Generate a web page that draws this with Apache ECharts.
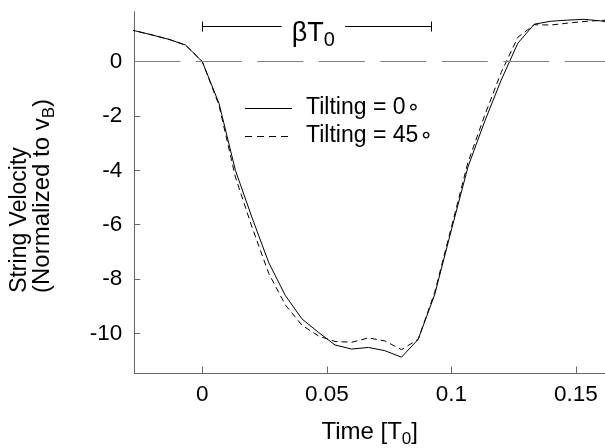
<!DOCTYPE html>
<html><head><meta charset="utf-8">
<script src="https://cdn.jsdelivr.net/npm/echarts@6/dist/echarts.min.js"></script>
<style>html,body{margin:0;padding:0;background:#fff}#c{width:605px;height:448px}</style>
</head><body><div id="c"></div>
<script>
// Time axis samples [T0]
const timeT0 = [-0.0333,-0.0267,-0.0200,-0.0133,-0.0067,0.0000,0.0067,0.0133,0.0200,0.0267,0.0333,0.0400,0.0467,0.0533,0.0600,0.0667,0.0733,0.0800,0.0867,0.0933,0.1000,0.1067,0.1133,0.1200,0.1267,0.1333,0.1400,0.1467,0.1533,0.1600,0.1667];
// String velocity (normalized to v_B)
const tilt0 = [1.27,1.13,0.98,0.82,0.61,0.00,-1.53,-4.00,-5.75,-7.40,-8.60,-9.47,-9.97,-10.43,-10.58,-10.52,-10.64,-10.88,-10.22,-8.58,-6.20,-3.87,-2.22,-0.68,0.68,1.38,1.49,1.53,1.56,1.50,1.42];
const tilt45 = [1.27,1.13,0.98,0.82,0.61,0.00,-1.60,-4.25,-6.10,-7.80,-8.95,-9.70,-10.10,-10.30,-10.33,-10.17,-10.28,-10.60,-10.22,-8.50,-6.10,-3.70,-2.00,-0.40,0.90,1.36,1.35,1.42,1.48,1.52,1.54];
const seriesNames = ['Tilting = 0\u2218','Tilting = 45\u2218'];
const xTicks = [0,0.05,0.1,0.15];
const xTickLabels = ['0','0.05','0.1','0.15'];
const yTicks = [-10,-8,-6,-4,-2,0];
const yTickLabels = ['-10','-8','-6','-4','-2','0'];
const bracketT = [0,0.092];
const bracketV = 1.31;

const FONT = 'Liberation Sans, Arial, sans-serif';
const AX = '#666666';
const chart = echarts.init(document.getElementById('c'), null, {renderer:'canvas'});
const pair = (xs, ys) => xs.map((x,i)=>[x, ys[i]]);
const option = {
  animation:false,
  backgroundColor:'#ffffff',
  grid:{left:134.3, right:0, top:11.7, bottom:74.5, containLabel:false},
  xAxis:{type:'value', min:-0.0273, max:0.1617,
    axisLine:{onZero:false, lineStyle:{color:AX, width:1}},
    axisTick:{inside:true, length:7, customValues:xTicks, lineStyle:{color:AX}},
    axisLabel:{customValues:xTicks, formatter:v=>xTickLabels[xTicks.findIndex(t=>Math.abs(t-v)<1e-9)] ?? String(v),
      fontSize:22.5, fontFamily:FONT, color:'#000', margin:10},
    splitLine:{show:false}},
  yAxis:{type:'value', min:-11.48, max:1.84,
    axisLine:{show:true, onZero:false, lineStyle:{color:AX, width:1}},
    axisTick:{show:true, inside:true, length:6, customValues:yTicks, lineStyle:{color:AX}},
    axisLabel:{customValues:yTicks, formatter:v=>yTickLabels[yTicks.findIndex(t=>Math.abs(t-v)<1e-9)] ?? String(v),
      fontSize:22.5, fontFamily:FONT, color:'#000', margin:12},
    splitLine:{show:false}},
  series:[
    {name:seriesNames[0], type:'line', data:pair(timeT0,tilt0), showSymbol:false, symbol:'none', clip:true,
     lineStyle:{color:'#000', width:1, type:'solid'},
     markLine:{silent:true, symbol:['none','none'], label:{show:false},
       lineStyle:{color:'#808080', width:1, type:[46,15.5]}, data:[{yAxis:0}]}},
    {name:seriesNames[1], type:'line', data:pair(timeT0,tilt45), showSymbol:false, symbol:'none', clip:true,
     lineStyle:{color:'#000', width:1, type:[6,4]}}
  ]
};
chart.setOption(option);

const P = (t,v)=>chart.convertToPixel({gridIndex:0},[t,v]);
const b0 = P(bracketT[0], bracketV), b1 = P(bracketT[1], bracketV);
const by = Math.round(b0[1])+0.5;
const gapL = 281.7, gapR = 345;
const ls = {stroke:'#000', lineWidth:1};
const subRich = {
  n:{fontSize:24, fontFamily:FONT, color:'#000', lineHeight:30},
  s:{fontSize:17, fontFamily:FONT, color:'#000', lineHeight:17, padding:[14,0,0,0]}
};
const legRich = {
  n:{fontSize:23, fontFamily:FONT, color:'#000', lineHeight:28},
  c:{fontSize:22, fontFamily:'DejaVu Sans, sans-serif', color:'#000', lineHeight:28, padding:[0,0,0,1]}
};
const legText = s => '{n|' + s.replace('\u2218','') + '}{c|\u2218}';
const graphics = [
  {type:'line', shape:{x1:b0[0], y1:by, x2:gapL, y2:by}, style:ls, silent:true},
  {type:'line', shape:{x1:gapR, y1:by, x2:b1[0], y2:by}, style:ls, silent:true},
  {type:'line', shape:{x1:Math.round(b0[0])+0.5, y1:by-5, x2:Math.round(b0[0])+0.5, y2:by+5}, style:ls, silent:true},
  {type:'line', shape:{x1:Math.round(b1[0])+0.5, y1:by-5, x2:Math.round(b1[0])+0.5, y2:by+5}, style:ls, silent:true},
  {type:'text', x:(gapL+gapR)/2, y:by+7, silent:true,
    style:{text:'{n|\u03b2T}{s|0}', align:'center', verticalAlign:'middle',
      rich:{n:{fontSize:27, fontFamily:FONT, color:'#000', lineHeight:32},
            s:{fontSize:20, fontFamily:FONT, color:'#000', lineHeight:20, padding:[14,0,0,0]}}}},
  // legend
  {type:'line', shape:{x1:245, y1:108.5, x2:292, y2:108.5}, style:ls, silent:true},
  {type:'line', shape:{x1:245, y1:136.5, x2:292, y2:136.5}, style:{stroke:'#000', lineWidth:1, lineDash:[7,5]}, silent:true},
  {type:'text', x:306, y:108, silent:true, style:{text:legText(seriesNames[0]), rich:legRich, align:'left', verticalAlign:'middle'}},
  {type:'text', x:306, y:136, silent:true, style:{text:legText(seriesNames[1]), rich:legRich, align:'left', verticalAlign:'middle'}},
  // x title
  {type:'text', x:369.7, y:432, silent:true,
    style:{text:'{n|Time [T}{s|0}{n|]}', align:'center', verticalAlign:'middle', rich:subRich}},
  // y title
  {type:'text', x:20, y:220, rotation:Math.PI/2, silent:true,
    style:{text:'String Velocity', fontSize:23, fontFamily:FONT, fill:'#000', align:'center', verticalAlign:'middle'}},
  {type:'text', x:42, y:196, rotation:Math.PI/2, silent:true,
    style:{text:'{n|(Normalized to v}{s|B}{n|)}', align:'center', verticalAlign:'middle', rich:subRich}}
];
chart.setOption({graphic:graphics});
</script></body></html>
